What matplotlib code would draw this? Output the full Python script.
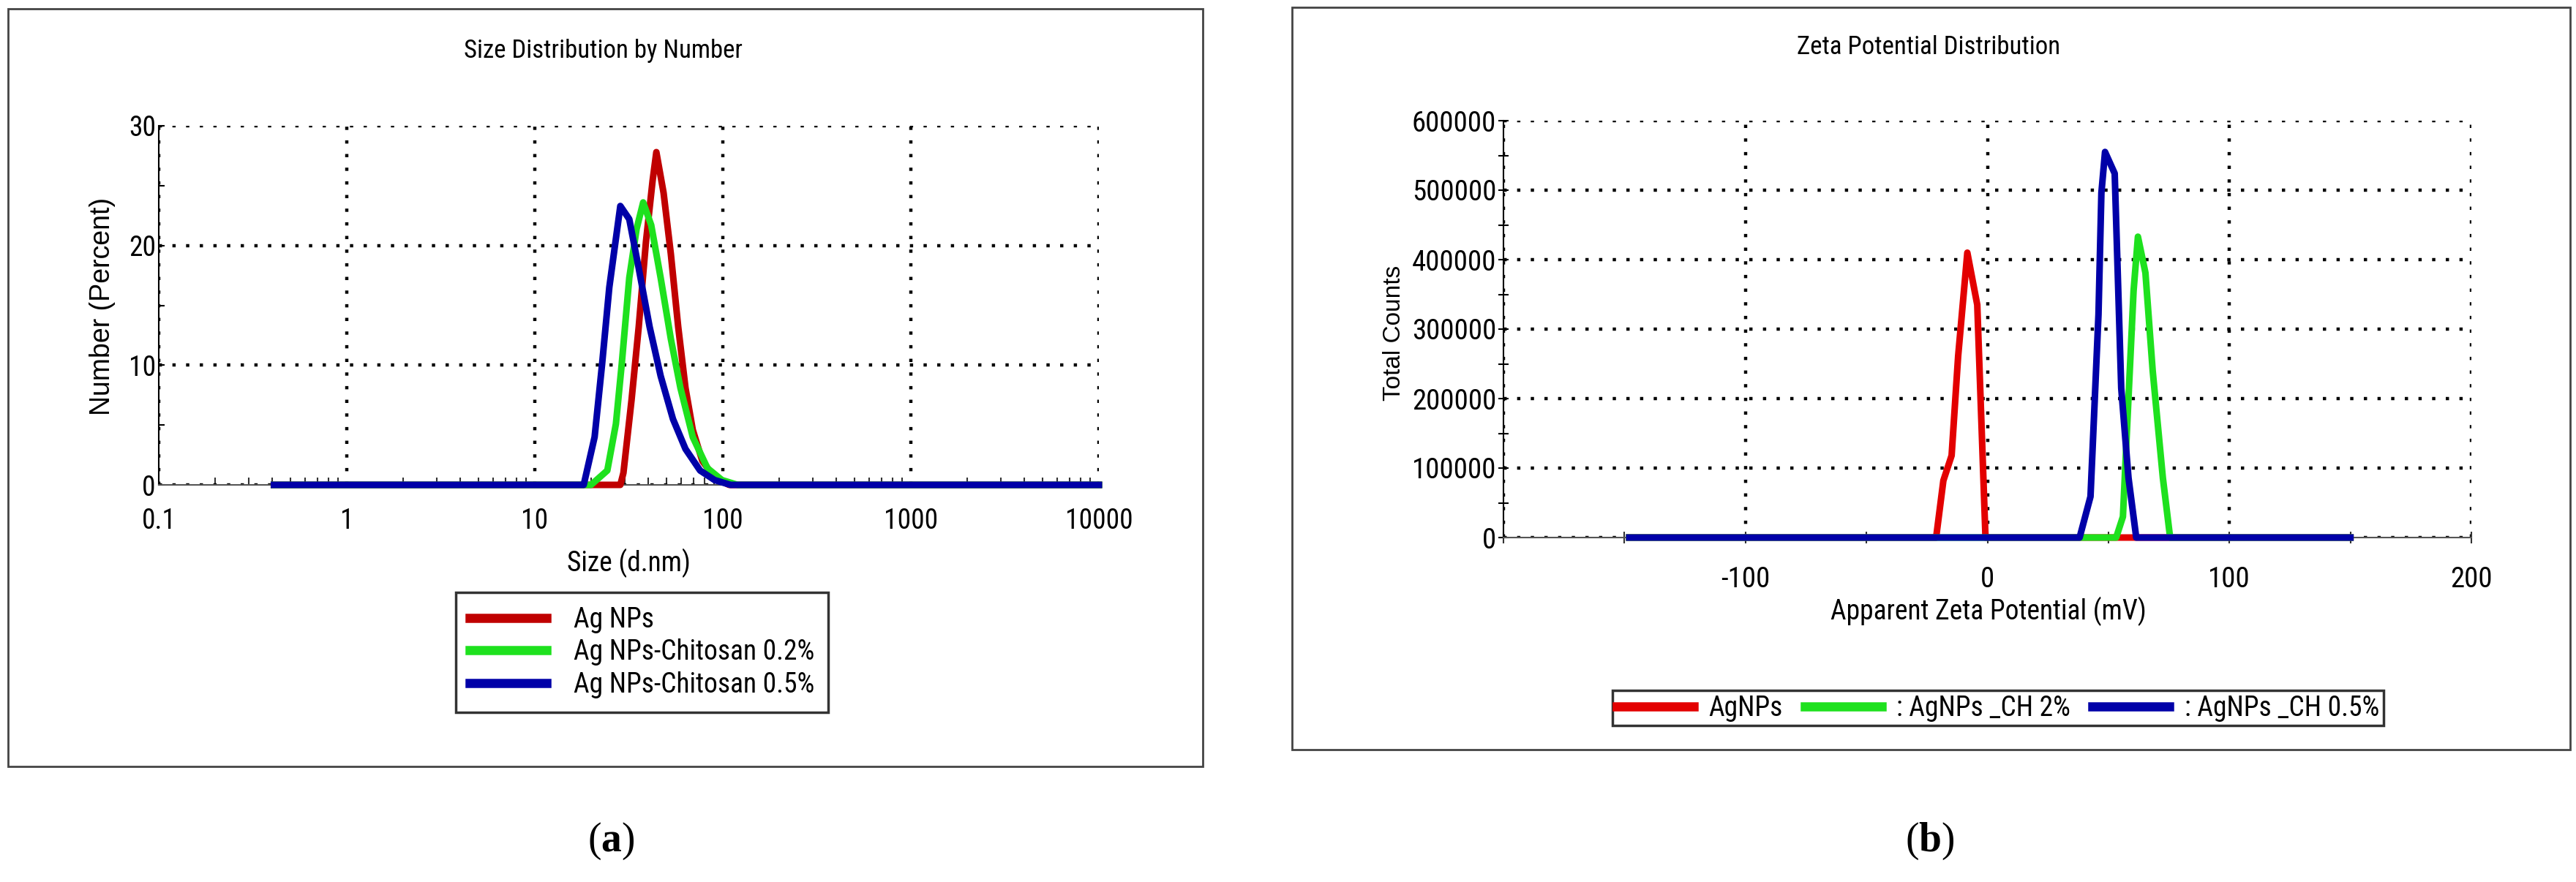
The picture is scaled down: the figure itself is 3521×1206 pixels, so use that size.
import matplotlib
matplotlib.use("Agg")
import matplotlib.pyplot as plt
from matplotlib.patches import Rectangle

# ---- data ----
# (a) size distribution by number
size_ag = [0.41, 22.8, 28.5, 29.6, 32.7, 35.7, 39.0, 42.3, 44.3, 48.4, 52.9, 57.9, 63.3, 69.2, 77.8, 90.5, 108, 10000]
num_ag = [0, 0, 0, 1.0, 7.1, 13.2, 20.3, 25.4, 27.8, 24.4, 19.3, 13.2, 8.1, 4.6, 2.0, 0.6, 0, 0]
size_ch02 = [0.41, 19.9, 24.3, 27.0, 29.0, 31.8, 34.8, 37.7, 41.6, 46.7, 52.9, 59.5, 69.2, 82.8, 99, 120, 10000]
num_ch02 = [0, 0, 1.2, 5.1, 10.1, 17.3, 21.4, 23.6, 21.7, 17.3, 12.2, 8.1, 4.0, 1.4, 0.4, 0, 0]
size_ch05 = [0.41, 18.2, 20.8, 22.8, 24.9, 28.5, 31.8, 35.7, 40.8, 46.7, 54.3, 63.3, 75.7, 90.5, 110, 10000]
num_ch05 = [0, 0, 4.0, 10.1, 16.5, 23.3, 22.2, 18.1, 13.2, 9.1, 5.5, 3.0, 1.2, 0.4, 0, 0]
labels_a = ["Ag NPs", "Ag NPs-Chitosan 0.2%", "Ag NPs-Chitosan 0.5%"]
size_ticks = [0.1, 1, 10, 100, 1000, 10000]
size_ticklabels = ["0.1", "1", "10", "100", "1000", "10000"]

# (b) zeta potential distribution
zeta_ag = [-148, -21.2, -18.2, -14.8, -12.1, -8.3, -4.2, -0.8, 150]
counts_ag = [0, 0, 82000, 118000, 261000, 410000, 335000, 0, 0]
zeta_ch2 = [-148, 53.2, 56.0, 58.3, 60.4, 62.2, 65.3, 68.3, 72.5, 75.5, 150]
counts_ch2 = [0, 0, 30000, 201000, 355000, 433000, 381000, 240000, 86000, 0, 0]
zeta_ch05 = [-148, 38.1, 42.6, 45.9, 47.1, 48.6, 52.6, 55.3, 58.3, 61.5, 150]
counts_ch05 = [0, 0, 59000, 321000, 496000, 555000, 524000, 215000, 86000, 0, 0]
labels_b = ["AgNPs", ": AgNPs _CH 2%", ": AgNPs _CH 0.5%"]
zeta_ticks = [-200, -100, 0, 100, 200]
zeta_ticklabels = ["", "-100", "0", "100", "200"]
count_ticks = [0, 100000, 200000, 300000, 400000, 500000, 600000]

W, H = 3521, 1206
narrow = ['Liberation Sans Narrow', 'Roboto Condensed', 'Archivo Narrow', 'Liberation Sans', 'DejaVu Sans']
plt.rcParams['font.family'] = narrow
plt.rcParams['mathtext.fontset'] = 'custom'
plt.rcParams['mathtext.rm'] = 'Liberation Serif'
plt.rcParams['mathtext.bf'] = 'Liberation Serif:bold'

fig = plt.figure(figsize=(W / 100, H / 100), dpi=100)

def fx(px):
    return px / W

def fy(py):
    return 1 - py / H

# panel frames
fig.patches.append(Rectangle((fx(11), fy(1048)), (1644 - 11) / W, (1048 - 12) / H,
                             transform=fig.transFigure, fill=False, edgecolor='#444444', lw=2))
fig.patches.append(Rectangle((fx(1766), fy(1025)), (3513 - 1766) / W, (1025 - 10) / H,
                             transform=fig.transFigure, fill=False, edgecolor='#444444', lw=2))

dots = (0, (1, 3.2))
red_a, red_b, green, blue = '#c00000', '#e30000', '#1ee11e', '#0000a8'


def style_axes(ax):
    ax.spines['top'].set_visible(False)
    ax.spines['right'].set_visible(False)
    ax.spines['left'].set_color('black')
    ax.spines['left'].set_linewidth(1.5)
    ax.spines['bottom'].set_color('#555555')
    ax.spines['bottom'].set_linewidth(1.5)
    ax.grid(True, which='major', color='black', linestyle=dots, lw=3.2)
    ax.set_axisbelow(True)


# ---- (a) ----
ax1 = fig.add_axes([fx(217), fy(663), 1285 / W, 491 / H])
ax1.set_xscale('log')
l1, = ax1.plot(size_ag, num_ag, color=red_a, lw=6.5, clip_on=False, zorder=3)
l2, = ax1.plot(size_ch02, num_ch02, color=green, lw=6.5, clip_on=False, zorder=3)
l3, = ax1.plot(size_ch05, num_ch05, color=blue, lw=6.5, clip_on=False, zorder=3)
ax1.set_xlim(0.1, 10000)
ax1.set_ylim(0, 30)
ax1.set_xticks(size_ticks, size_ticklabels)
ax1.set_yticks([0, 10, 20, 30])
ax1.set_yticks([5, 15, 25], minor=True)
style_axes(ax1)
ax1.tick_params(axis='x', which='major', length=0, pad=22, labelsize=27)
ax1.tick_params(axis='x', which='minor', direction='in', length=7, width=1.5, color='#333333')
ax1.tick_params(axis='y', which='both', direction='in', length=6, width=1.5, pad=3, labelsize=27)

fig.text(fx(825), fy(69), "Size Distribution by Number", fontsize=25, ha='center', va='center')
fig.text(fx(140), fy(419), "Number (Percent)", family='Liberation Sans', fontsize=27,
         rotation=90, ha='center', va='center')
fig.text(fx(859), fy(770), "Size (d.nm)", fontsize=27, ha='center', va='center')

leg1 = fig.legend([l1, l2, l3], labels_a, loc='upper left', bbox_to_anchor=(fx(623), fy(810)),
                  bbox_transform=fig.transFigure, fontsize=27, frameon=True, fancybox=False,
                  edgecolor='#333333', framealpha=1, borderaxespad=0, borderpad=0.5,
                  handlelength=2.8, handletextpad=1.0, labelspacing=0.2)
leg1.get_frame().set_linewidth(2.5)
for ln in leg1.get_lines():
    ln.set_linewidth(9)

# ---- (b) ----
ax2 = fig.add_axes([fx(2055), fy(735), 1323 / W, 570 / H])
m1, = ax2.plot(zeta_ag, counts_ag, color=red_b, lw=6.5, clip_on=False, zorder=3)
m2, = ax2.plot(zeta_ch2, counts_ch2, color=green, lw=6.5, clip_on=False, zorder=3)
m3, = ax2.plot(zeta_ch05, counts_ch05, color=blue, lw=6.5, clip_on=False, zorder=3)
ax2.set_xlim(-200, 200)
ax2.set_ylim(0, 600000)
ax2.set_xticks(zeta_ticks, zeta_ticklabels)
ax2.set_xticks([-150, -50, 50, 150], minor=True)
ax2.set_yticks(count_ticks, [str(v) for v in count_ticks])
ax2.set_yticks([50000 + 100000 * i for i in range(6)], minor=True)
style_axes(ax2)
ax2.tick_params(axis='x', which='both', direction='inout', length=12, width=1.5, pad=22,
                labelsize=28, color='#333333')
ax2.tick_params(axis='y', which='both', direction='inout', length=10, width=1.5, pad=2, labelsize=28)

fig.text(fx(2636), fy(65), "Zeta Potential Distribution", fontsize=25, ha='center', va='center')
fig.text(fx(1906), fy(455), "Total Counts", family='Liberation Sans', fontsize=24,
         rotation=90, ha='center', va='center')
fig.text(fx(2718), fy(836), "Apparent Zeta Potential (mV)", fontsize=27, ha='center', va='center')

leg2 = fig.legend([m1, m2, m3], labels_b, loc='upper left', bbox_to_anchor=(fx(2204), fy(944)),
                  bbox_transform=fig.transFigure, ncol=3, fontsize=27, frameon=True, fancybox=False,
                  edgecolor='#333333', framealpha=1, borderaxespad=0, borderpad=0.15,
                  handlelength=2.8, handletextpad=0.55, columnspacing=0.8)
leg2.get_frame().set_linewidth(2.5)
for ln in leg2.get_lines():
    ln.set_linewidth(9)

# captions
fig.text(fx(835), fy(1150), r"($\mathbf{a}$)", family='Liberation Serif', fontsize=40,
         ha='center', va='center')
fig.text(fx(2638), fy(1150), r"($\mathbf{b}$)", family='Liberation Serif', fontsize=40,
         ha='center', va='center')

fig.savefig("out.png", dpi=100)
